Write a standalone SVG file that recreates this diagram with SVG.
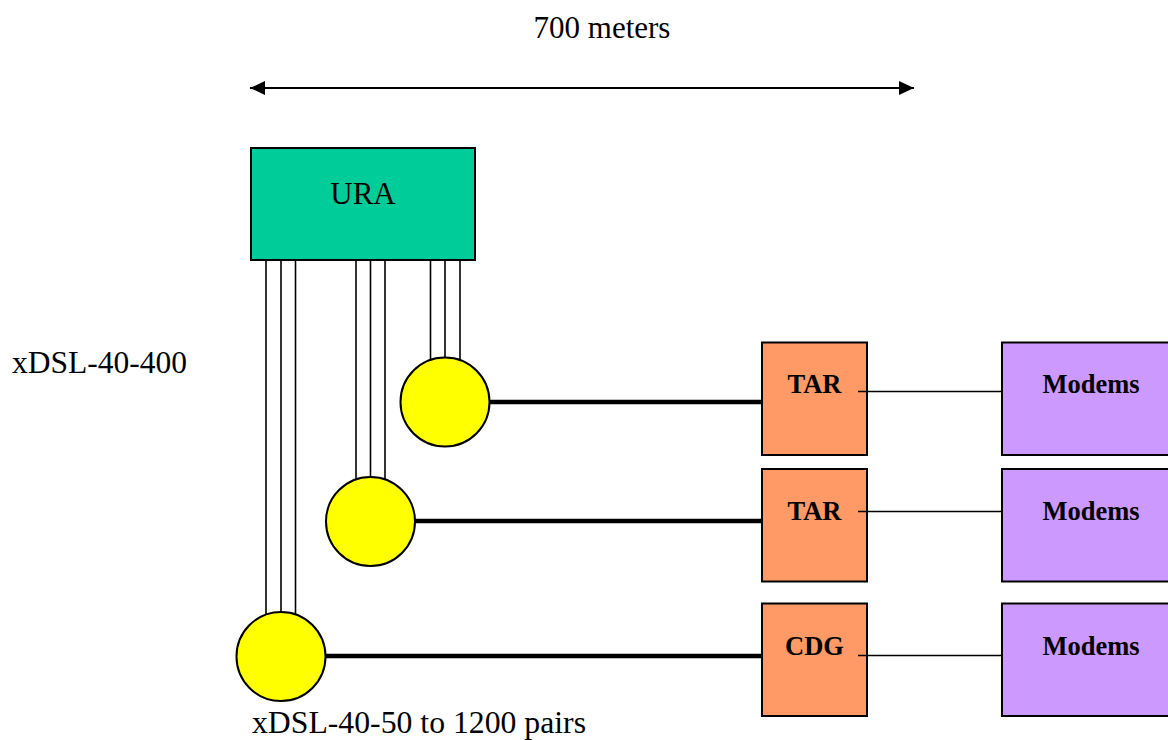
<svg xmlns="http://www.w3.org/2000/svg" width="1168" height="740" viewBox="0 0 1168 740">
<style>
text{font-family:"Liberation Serif","Times New Roman",serif;fill:#000}
.lbl{font-size:31px}
.b{font-size:26.5px;font-weight:bold;text-anchor:middle}
.pair{stroke:#000;stroke-width:1.6;fill:none}
.thick{stroke:#000;stroke-width:4.5;fill:none}
.thin{stroke:#000;stroke-width:1.4;fill:none}
.node{stroke:#000;stroke-width:2}
.hub{fill:#ffff00;stroke:#000;stroke-width:2}
.tar{fill:#ff9966;stroke:#000;stroke-width:2}
.mod{fill:#cc99ff;stroke:#000;stroke-width:2}
</style>
<defs>
<marker id="ah" viewBox="0 0 15 14" refX="15" refY="7" markerWidth="15" markerHeight="14" markerUnits="userSpaceOnUse" orient="auto-start-reverse">
<path d="M0,0 L15,7 L0,14 Z" fill="#000"/>
</marker>
</defs>
<rect width="1168" height="740" fill="#fff"/>
<g id="dimension">
<line x1="250" y1="88" x2="914" y2="88" stroke="#000" stroke-width="2" marker-start="url(#ah)" marker-end="url(#ah)"/>
<text x="602" y="38" class="lbl" text-anchor="middle">700 meters</text>
</g>
<g id="connectors">
<line class="pair" x1="266" y1="260" x2="266" y2="656"/>
<line class="pair" x1="281" y1="260" x2="281" y2="656"/>
<line class="pair" x1="295.5" y1="260" x2="295.5" y2="656"/>
<line class="pair" x1="356" y1="260" x2="356" y2="521"/>
<line class="pair" x1="370.5" y1="260" x2="370.5" y2="521"/>
<line class="pair" x1="385" y1="260" x2="385" y2="521"/>
<line class="pair" x1="430.5" y1="260" x2="430.5" y2="402"/>
<line class="pair" x1="445" y1="260" x2="445" y2="402"/>
<line class="pair" x1="460" y1="260" x2="460" y2="402"/>
<line class="thick" x1="470" y1="402" x2="763" y2="402"/>
<line class="thick" x1="395" y1="521" x2="763" y2="521"/>
<line class="thick" x1="300" y1="656" x2="763" y2="656"/>
</g>
<g id="ura">
<rect x="251" y="148" width="224" height="112" fill="#00cc99" class="node"/>
<text x="363" y="204" class="lbl" text-anchor="middle">URA</text>
</g>
<g id="hub1"><circle cx="445" cy="402" r="44.5" class="hub"/></g>
<g id="hub2"><circle cx="370.5" cy="521.5" r="44.5" class="hub"/></g>
<g id="hub3"><circle cx="281" cy="656.5" r="44.5" class="hub"/></g>
<g id="tar1">
<rect x="762" y="342.5" width="105" height="112.5" class="tar"/>
<text x="814.5" y="393" class="b">TAR</text>
</g>
<g id="tar2">
<rect x="762" y="469" width="105" height="112.5" class="tar"/>
<text x="814.5" y="520" class="b">TAR</text>
</g>
<g id="cdg">
<rect x="762" y="603.5" width="105" height="112.5" class="tar"/>
<text x="814.5" y="655" class="b">CDG</text>
</g>
<g id="modems1">
<rect x="1002" y="342.5" width="178" height="112.5" class="mod"/>
<text x="1091" y="393" class="b">Modems</text>
</g>
<g id="modems2">
<rect x="1002" y="469" width="178" height="112.5" class="mod"/>
<text x="1091" y="520" class="b">Modems</text>
</g>
<g id="modems3">
<rect x="1002" y="603.5" width="178" height="112.5" class="mod"/>
<text x="1091" y="655" class="b">Modems</text>
</g>
<g id="links">
<line class="thin" x1="858" y1="391.5" x2="1003" y2="391.5"/>
<line class="thin" x1="858" y1="511.5" x2="1003" y2="511.5"/>
<line class="thin" x1="858" y1="655.5" x2="1003" y2="655.5"/>
</g>
<g id="labels">
<text x="12" y="373" class="lbl" textLength="175" lengthAdjust="spacingAndGlyphs">xDSL-40-400</text>
<text x="252" y="733" class="lbl" textLength="334" lengthAdjust="spacingAndGlyphs">xDSL-40-50 to 1200 pairs</text>
</g>
</svg>
